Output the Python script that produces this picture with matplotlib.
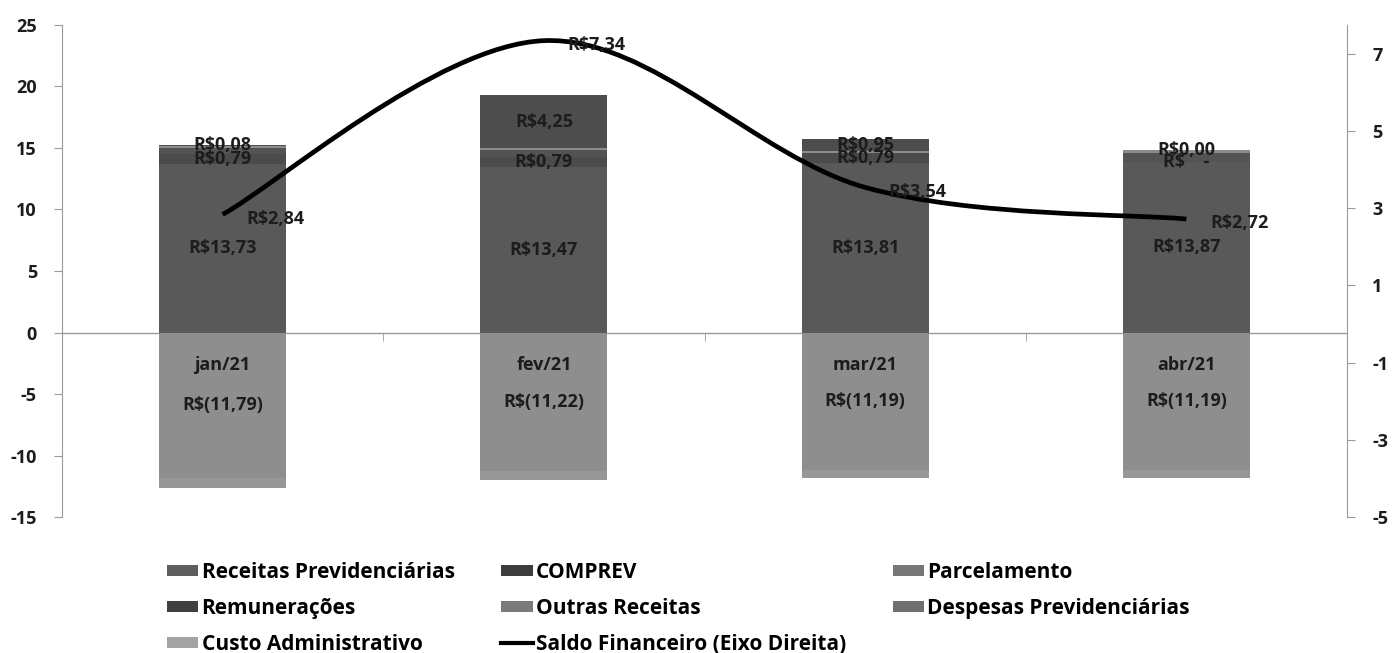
import numpy as np
import matplotlib
matplotlib.use("Agg")
import matplotlib.pyplot as plt
from matplotlib.path import Path
from matplotlib.patches import PathPatch, Patch
from matplotlib.lines import Line2D

plt.rcParams['font.family'] = ['Open Sans', 'DejaVu Sans']
plt.rcParams['font.weight'] = 'bold'
plt.rcParams['axes.unicode_minus'] = False

# valores em R$ milhões
meses = ["jan/21", "fev/21", "mar/21", "abr/21"]
receitas_prev = [13.73, 13.47, 13.81, 13.87]
comprev = [0.79, 0.79, 0.79, 0.00]
parcelamento = [0.45, 0.55, 0.00, 0.72]
outras_receitas = [0.22, 0.20, 0.18, 0.22]
remuneracoes = [0.08, 4.25, 0.95, 0.00]
despesas_prev = [-11.79, -11.22, -11.19, -11.19]
custo_adm = [-0.85, -0.80, -0.65, -0.60]
saldo = [2.84, 7.34, 3.54, 2.72]

cor_texto = "#1c1c1c"
cor_eixo = "#9a9a9a"


def brl(v):
    if v < 0:
        return "R$(" + f"{-v:.2f}".replace(".", ",") + ")"
    return "R$" + f"{v:.2f}".replace(".", ",")


fig = plt.figure(figsize=(13.93, 6.53), dpi=100)
ax = fig.add_axes([0.0445, 0.208, 0.9225, 0.754])
ax2 = ax.twinx()
ax.set_axisbelow(False)

x = np.arange(len(meses))
w = 0.395

# barras positivas empilhadas
base = np.zeros(len(meses))
b_rec = ax.bar(x, receitas_prev, w, bottom=base, color="#595959", zorder=2)
base += receitas_prev
b_comp = ax.bar(x, comprev, w, bottom=base, color="#4b4b4b", zorder=2)
base += comprev
b_parc = ax.bar(x, parcelamento, w, bottom=base, color="#535353", zorder=2)
base += parcelamento
b_out = ax.bar(x, outras_receitas, w, bottom=base, color="#8c8c8c", zorder=2)
base += outras_receitas
b_rem = ax.bar(x, remuneracoes, w, bottom=base, color="#4d4d4d", zorder=2)

# barras negativas
b_desp = ax.bar(x, despesas_prev, w, color="#8e8e8e", zorder=2)
b_custo = ax.bar(x, custo_adm, w, bottom=despesas_prev, color="#979797", zorder=2)

fs = 13
ax.bar_label(b_rec, labels=[brl(v) for v in receitas_prev], label_type="center",
             fontsize=fs, color=cor_texto, fontweight="bold")
comp_lbl = [brl(v) if v != 0 else "R$    -" for v in comprev]
ax.bar_label(b_comp, labels=comp_lbl, label_type="center",
             fontsize=fs, color=cor_texto, fontweight="bold")
ax.bar_label(b_rem, labels=[brl(v) for v in remuneracoes], label_type="center",
             fontsize=fs, color=cor_texto, fontweight="bold")
ax.bar_label(b_desp, labels=[brl(v) for v in despesas_prev], label_type="center",
             fontsize=fs, color=cor_texto, fontweight="bold")

ax.set_xlim(-0.5, len(meses) - 0.5)
ax.set_ylim(-15, 25)
ax.set_yticks(range(-15, 26, 5))
ax.axhline(0, color=cor_eixo, lw=1, zorder=1)

ax.set_xticks(x)
ax.set_xticklabels(meses)
ax.set_xticks([0.5, 1.5, 2.5], minor=True)
ax.tick_params(axis="x", which="major", length=0, pad=17, labelsize=fs,
               labelcolor=cor_texto)
ax.tick_params(axis="x", which="minor", length=6, color=cor_eixo, direction="out")
ax.spines["bottom"].set_position(("data", 0))
ax.spines["bottom"].set_visible(False)
ax.tick_params(axis="y", labelsize=fs, colors=cor_texto, length=6, pad=12)
ax.tick_params(axis="y", color=cor_eixo)
for s in ["top", "right"]:
    ax.spines[s].set_visible(False)
ax.spines["left"].set_color(cor_eixo)

# eixo direito: saldo financeiro (linha suavizada)
ax2.set_ylim(-5, 7.75)
ax2.set_yticks(range(-5, 8, 2))
ax2.tick_params(axis="y", labelsize=fs, colors=cor_texto, length=6, pad=12)
ax2.tick_params(axis="y", color=cor_eixo)
for s in ["top", "left", "bottom"]:
    ax2.spines[s].set_visible(False)
ax2.spines["right"].set_color(cor_eixo)

pts = np.column_stack([x, saldo]).astype(float)
ext = np.vstack([pts[0], pts, pts[-1]])
verts = [tuple(pts[0])]
codes = [Path.MOVETO]
for i in range(len(pts) - 1):
    p0, p1, p2, p3 = ext[i], ext[i + 1], ext[i + 2], ext[i + 3]
    c1 = p1 + (p2 - p0) / 6.0
    c2 = p2 - (p3 - p1) / 6.0
    verts += [tuple(c1), tuple(c2), tuple(p2)]
    codes += [Path.CURVE4] * 3
ax2.add_patch(PathPatch(Path(verts, codes), fill=False, edgecolor="black",
                        lw=3.4, capstyle="butt", zorder=3))

for xi, v in zip(x, saldo):
    ax2.annotate(brl(v), (xi, v), xytext=(17, -3), textcoords="offset points",
                 ha="left", va="center", fontsize=fs, color=cor_texto,
                 fontweight="bold", zorder=4)

# legenda em 3 colunas (preenchida por coluna)
handles = [
    Patch(facecolor="#5e5e5e", label="Receitas Previdenciárias"),
    Patch(facecolor="#3f3f3f", label="Remunerações"),
    Patch(facecolor="#a3a3a3", label="Custo Administrativo"),
    Patch(facecolor="#3c3c3c", label="COMPREV"),
    Patch(facecolor="#7a7a7a", label="Outras Receitas"),
    Line2D([], [], color="black", lw=3, label="Saldo Financeiro (Eixo Direita)"),
    Patch(facecolor="#777777", label="Parcelamento"),
    Patch(facecolor="#6f6f6f", label="Despesas Previdenciárias"),
]
fig.legend(handles=handles, loc="upper left", bbox_to_anchor=(0.12, 0.140),
           ncol=3, frameon=False, fontsize=15, handlelength=1.5,
           handleheight=0.45, handletextpad=0.15, columnspacing=2.25,
           labelspacing=0.72, borderaxespad=0, borderpad=0)

plt.savefig("out.png", dpi=100)
